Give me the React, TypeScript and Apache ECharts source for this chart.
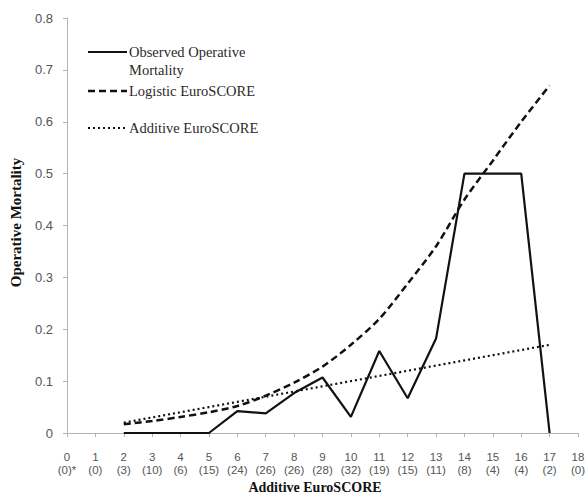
import React, { useEffect, useRef } from "react";
import * as echarts from "echarts";

const scores = [2, 3, 4, 5, 6, 7, 8, 9, 10, 11, 12, 13, 14, 15, 16, 17];
const observed = [0, 0, 0, 0, 0.042, 0.038, 0.077, 0.107, 0.031, 0.158, 0.067, 0.182, 0.5, 0.5, 0.5, 0];
const logistic = [0.017, 0.023, 0.031, 0.04, 0.052, 0.072, 0.097, 0.128, 0.17, 0.22, 0.288, 0.36, 0.45, 0.525, 0.6, 0.67];
const additive = [0.02, 0.03, 0.04, 0.05, 0.06, 0.07, 0.08, 0.09, 0.1, 0.11, 0.12, 0.13, 0.14, 0.15, 0.16, 0.17];
const patientCounts = ["(0)*", "(0)", "(3)", "(10)", "(6)", "(15)", "(24)", "(26)", "(26)", "(28)", "(32)", "(19)", "(15)", "(11)", "(8)", "(4)", "(4)", "(2)", "(0)"];
const seriesNames = ["Observed Operative\nMortality", "Logistic EuroSCORE", "Additive EuroSCORE"];

const pairs = (ys: number[]) => scores.map((x, i) => [x, ys[i]]);

export default function App() {
  const ref = useRef<HTMLDivElement>(null);
  useEffect(() => {
    if (!ref.current) return;
    const chart = echarts.init(ref.current, undefined, { renderer: "svg" });
    const serif = "'Liberation Serif', 'Times New Roman', serif";
    const sans = "'Liberation Sans', Arial, sans-serif";
    const legendText = { fontFamily: serif, fontSize: 14.5, fill: "#2a2a2a" };
    chart.setOption({
      animation: false,
      backgroundColor: "#fff",
      grid: { left: 67, right: 8, top: 18, bottom: 62, containLabel: false, outerBoundsMode: "none" },
      xAxis: {
        type: "value",
        min: 0,
        max: 18,
        interval: 1,
        name: "Additive EuroSCORE",
        nameLocation: "middle",
        nameGap: 45,
        nameTextStyle: { fontFamily: serif, fontWeight: "bold", fontSize: 14, color: "#111", padding: [0, 15, 0, 0] },
        axisLine: { lineStyle: { color: "#b3b3b3", width: 1 } },
        axisTick: { show: true, length: 4, lineStyle: { color: "#b3b3b3" } },
        splitLine: { show: false },
        axisLabel: {
          margin: 17,
          fontFamily: sans,
          fontSize: 11.5,
          lineHeight: 13,
          color: "#555",
          formatter: (v: number) => `${v}\n${patientCounts[v] ?? ""}`,
        },
      },
      yAxis: {
        type: "value",
        min: 0,
        max: 0.8,
        interval: 0.1,
        name: "Operative Mortality",
        nameLocation: "middle",
        nameGap: 44,
        nameTextStyle: { fontFamily: serif, fontWeight: "bold", fontSize: 15, color: "#111", padding: [0, 0, 0, 6] },
        axisLine: { show: true, lineStyle: { color: "#b3b3b3", width: 1 } },
        axisTick: { show: true, length: 4, lineStyle: { color: "#b3b3b3" } },
        splitLine: { show: false },
        axisLabel: {
          margin: 14,
          fontFamily: sans,
          fontSize: 13,
          color: "#555",
          formatter: (v: number) => (v === 0 ? "0" : v.toFixed(1)),
        },
      },
      series: [
        {
          name: seriesNames[0],
          type: "line",
          data: pairs(observed),
          showSymbol: false,
          lineStyle: { color: "#111", width: 2.2, type: "solid" },
          z: 3,
        },
        {
          name: seriesNames[1],
          type: "line",
          data: pairs(logistic),
          showSymbol: false,
          smooth: 0.3,
          lineStyle: { color: "#111", width: 2.5, type: [7, 4] },
          z: 2,
        },
        {
          name: seriesNames[2],
          type: "line",
          data: pairs(additive),
          showSymbol: false,
          lineStyle: { color: "#111", width: 2.2, type: [2, 3] },
          z: 2,
        },
      ],
      graphic: [
        { type: "line", shape: { x1: 88, y1: 52, x2: 127, y2: 52 }, style: { stroke: "#111", lineWidth: 2.2 } },
        { type: "text", x: 129, y: 52, style: { ...legendText, text: "Observed Operative", verticalAlign: "middle" } },
        { type: "text", x: 129, y: 70, style: { ...legendText, text: "Mortality", verticalAlign: "middle" } },
        { type: "line", shape: { x1: 88, y1: 91, x2: 127, y2: 91 }, style: { stroke: "#111", lineWidth: 2.5, lineDash: [7, 4] } },
        { type: "text", x: 129, y: 91, style: { ...legendText, text: "Logistic EuroSCORE", verticalAlign: "middle" } },
        { type: "line", shape: { x1: 88, y1: 128, x2: 127, y2: 128 }, style: { stroke: "#111", lineWidth: 2.2, lineDash: [2, 3] } },
        { type: "text", x: 129, y: 128, style: { ...legendText, text: "Additive EuroSCORE", verticalAlign: "middle" } },
      ],
    });
    return () => chart.dispose();
  }, []);
  return <div ref={ref} style={{ width: 586, height: 495, position: "absolute", left: 0, top: 0 }} />;
}
